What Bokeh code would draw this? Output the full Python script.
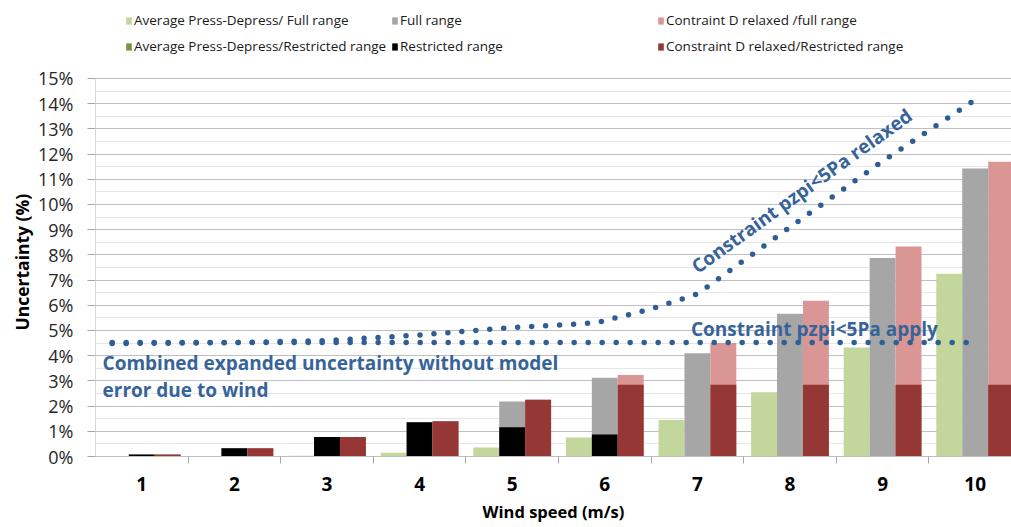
from bokeh.plotting import figure
from bokeh.models import (FixedTicker, SingleIntervalTicker, PrintfTickFormatter, Legend,
                          LegendItem, Label, ColumnDataSource, Range1d, Title)
from bokeh.transform import dodge
from bokeh.embed import file_html
from bokeh.resources import INLINE

# ---------------- data ----------------
wind_speed = [1, 2, 3, 4, 5, 6, 7, 8, 9, 10]
category_edges = [1.5, 2.5, 3.5, 4.5, 5.5, 6.5, 7.5, 8.5, 9.5]

avg_full = [0.01, 0.02, 0.03, 0.15, 0.36, 0.75, 1.45, 2.55, 4.33, 7.25]
avg_restricted = [0.0, 0.0, 0.0, 0.0, 0.0, 0.0, 0.0, 0.0, 0.0, 0.0]
full_range = [0.08, 0.33, 0.77, 1.36, 2.18, 3.12, 4.10, 5.66, 7.88, 11.43]
restricted_range = [0.08, 0.33, 0.77, 1.36, 1.16, 0.87, 0.0, 0.0, 0.0, 0.0]
relaxed_full = [0.08, 0.33, 0.77, 1.40, 2.25, 3.23, 4.50, 6.18, 8.33, 11.70]
relaxed_restricted = [0.08, 0.33, 0.77, 1.40, 2.25, 2.85, 2.85, 2.85, 2.85, 2.85]

apply_x = [0.68, 9.95]
apply_y = [4.52, 4.52]
relaxed_x = [0.68, 2.0, 3.0, 4.0, 5.0, 5.9, 6.5, 7.0, 8.0, 9.0, 9.97]
relaxed_y = [4.48, 4.52, 4.60, 4.82, 5.12, 5.30, 5.85, 6.45, 9.10, 11.72, 14.09]

y_axis_max = 15

legend_labels = ["Average Press-Depress/ Full range", "Full range", "Contraint D relaxed /full range",
                 "Average Press-Depress/Restricted range", "Restricted range",
                 "Constraint D relaxed/Restricted range"]

FONT = "Open Sans"
BLUE = "#2F5E96"
TXT_BLUE = "#36649A"

src = ColumnDataSource(dict(wind=wind_speed, avg_full=avg_full, avg_restricted=avg_restricted,
                            full_range=full_range, restricted_range=restricted_range,
                            relaxed_full=relaxed_full, relaxed_restricted=relaxed_restricted))

# frame spans the whole top of the picture; the value scale is limited to 0..15 %
p = figure(width=1011, height=527, x_range=Range1d(0.5, 10.392), y_range=Range1d(0, 18.095),
           output_backend="svg", toolbar_location=None,
           min_border_left=95, min_border_right=0, min_border_top=0, min_border_bottom=71)
p.outline_line_color = None
p.background_fill_color = "white"

W = 0.28
r_dg = p.vbar(x=dodge("wind", -W, range=p.x_range), top="avg_restricted", width=W, source=src,
              fill_color="#77933C", line_color=None)
r_lg = p.vbar(x=dodge("wind", -W, range=p.x_range), top="avg_full", width=W, source=src,
              fill_color="#C3D69B", line_color=None)
r_gr = p.vbar(x="wind", top="full_range", width=W, source=src, fill_color="#A6A6A6", line_color=None)
r_bk = p.vbar(x="wind", top="restricted_range", width=W, source=src, fill_color="#000000", line_color=None)
r_pk = p.vbar(x=dodge("wind", W, range=p.x_range), top="relaxed_full", width=W, source=src,
              fill_color="#D99694", line_color=None)
r_dr = p.vbar(x=dodge("wind", W, range=p.x_range), top="relaxed_restricted", width=W, source=src,
              fill_color="#953735", line_color=None)

# dotted lines
p.line(apply_x, apply_y, line_color=BLUE, line_width=5.5, line_dash="0 14", line_cap="round")
p.line(relaxed_x, relaxed_y, line_color=BLUE, line_width=5.5, line_dash="0 14", line_cap="round")

# axes
p.yaxis.bounds = (0, y_axis_max)
p.yaxis.ticker = SingleIntervalTicker(interval=1, num_minor_ticks=2)
p.yaxis.formatter = PrintfTickFormatter(format="%d%%")
p.yaxis.major_tick_out = 8
p.yaxis.major_tick_in = 0
p.yaxis.minor_tick_line_color = None
p.yaxis.major_tick_line_color = "#A6A6A6"
p.yaxis.axis_line_color = "#D9D9D9"
p.yaxis.major_label_standoff = 14
p.yaxis.major_label_text_font = FONT
p.yaxis.major_label_text_font_size = "18px"
p.yaxis.major_label_text_color = "#262626"

# y axis title, placed along the 0..15 % span
p.add_layout(Title(text="Uncertainty (%)", align="left", offset=126, standoff=3,
                   text_font=FONT, text_font_size="17.5px", text_font_style="bold",
                   text_color="#000000"), "left")

p.xaxis.ticker = FixedTicker(ticks=wind_speed, minor_ticks=category_edges)
p.xaxis.major_tick_line_color = None
p.xaxis.major_tick_out = 0
p.xaxis.major_tick_in = 0
p.xaxis.minor_tick_out = 7
p.xaxis.minor_tick_in = 0
p.xaxis.minor_tick_line_color = "#A6A6A6"
p.xaxis.axis_line_color = "#BFBFBF"
p.xaxis.major_label_standoff = 13
p.xaxis.major_label_text_font = FONT
p.xaxis.major_label_text_font_size = "19px"
p.xaxis.major_label_text_font_style = "bold"
p.xaxis.major_label_text_color = "#000000"
p.xaxis.axis_label = "Wind speed (m/s)"
p.xaxis.axis_label_text_font = FONT
p.xaxis.axis_label_text_font_size = "16.5px"
p.xaxis.axis_label_text_font_style = "bold"
p.xaxis.axis_label_text_color = "#000000"
p.xaxis.axis_label_standoff = 6

p.xgrid.grid_line_color = None
p.ygrid.bounds = (0, y_axis_max)
p.ygrid.grid_line_color = "#BFBFBF"
p.ygrid.minor_grid_line_color = "#E6E6E6"

# annotations
ann = dict(text_font=FONT, text_font_size="19px", text_font_style="bold", text_color=TXT_BLUE,
           text_baseline="alphabetic", text_align="left")
p.add_layout(Label(x=0.576, y=3.73, text="Combined expanded uncertainty without model", **ann))
p.add_layout(Label(x=0.576, y=2.62, text="error due to wind", **ann))
p.add_layout(Label(x=6.93, y=5.04, text="Constraint pzpi<5Pa apply", **ann))
p.add_layout(Label(x=6.96, y=7.46, text="Constraint pzpi<5Pa relaxed", angle=35.7,
                   angle_units="deg", **ann))

# legend
renderers = [r_lg, r_gr, r_pk, r_dg, r_bk, r_dr]
items = [LegendItem(label=l, renderers=[r]) for l, r in zip(legend_labels, renderers)]
legend = Legend(items=items, location=(30, 397), orientation="horizontal", ncols=3,
                glyph_width=7, glyph_height=9, label_standoff=2, label_width=257, label_height=26,
                spacing=0, padding=0, margin=0, border_line_color=None, background_fill_alpha=0,
                label_text_font=FONT, label_text_font_size="13.5px", label_text_color="#1A1A1A")
p.add_layout(legend, "center")

open("out.html", "w").write(file_html(p, INLINE))
